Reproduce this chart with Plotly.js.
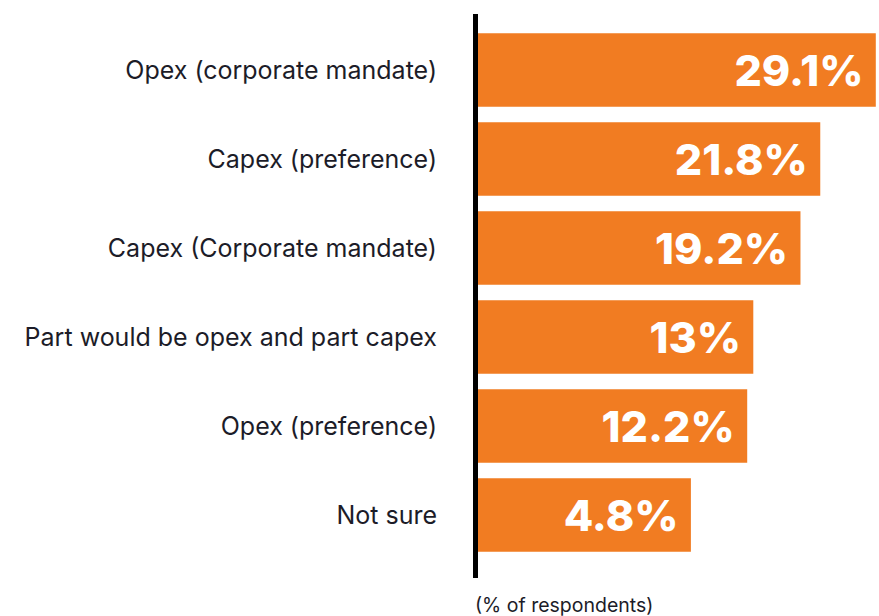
<!DOCTYPE html>
<html>
<head>
<meta charset="utf-8">
<script src="https://cdn.plot.ly/plotly-3.0.1.min.js"></script>
<style>html,body{margin:0;padding:0;background:#fff;}#chart{width:879px;height:616px;}</style>
</head>
<body>
<div id="chart"></div>
<script>
const categories = [
  "Opex (corporate mandate)",
  "Capex (preference)",
  "Capex (Corporate mandate)",
  "Part would be opex and part capex",
  "Opex (preference)",
  "Not sure"
];
const values = [29.1, 21.8, 19.2, 13, 12.2, 4.8];
const valueLabels = ["29.1%", "21.8%", "19.2%", "13%", "12.2%", "4.8%"];
const axisNote = "(% of respondents)";

const OFFSET = 23.18;
const NBSP = "\u00a0";

const trace = {
  type: "bar",
  orientation: "h",
  y: categories,
  x: values.map(v => v + OFFSET),
  base: values.map(() => -OFFSET),
  text: valueLabels.map(t => t + NBSP),
  textposition: "inside",
  insidetextanchor: "end",
  textangle: 0,
  constraintext: "none",
  cliponaxis: true,
  textfont: {family: "Inter, Lato, sans-serif", size: 43, color: "#ffffff", weight: 800},
  marker: {color: "#F17C22", line: {width: 0}},
  hoverinfo: "skip"
};

const layout = {
  width: 879,
  height: 616,
  margin: {l: 478, r: 0, t: 14, b: 38, pad: 0},
  paper_bgcolor: "#ffffff",
  plot_bgcolor: "#ffffff",
  showlegend: false,
  bargap: 0.174,
  xaxis: {
    range: [-OFFSET, 29.52],
    visible: false,
    showgrid: false,
    zeroline: false,
    fixedrange: true
  },
  yaxis: {
    type: "category",
    categoryorder: "array",
    categoryarray: categories,
    range: [5.708, -0.629],
    showgrid: false,
    zeroline: false,
    showline: false,
    ticks: "",
    ticklabelstandoff: 40,
    tickfont: {family: "Inter, 'Open Sans', sans-serif", size: 25, color: "#1c1c28"},
    fixedrange: true
  },
  shapes: [{
    type: "rect",
    xref: "paper", yref: "paper",
    xsizemode: "pixel", xanchor: 0,
    x0: -5, x1: 0, y0: 0, y1: 1,
    fillcolor: "#000000",
    line: {width: 0},
    layer: "above"
  }],
  annotations: [{
    text: axisNote,
    xref: "paper", yref: "paper",
    x: 0, y: 0,
    xanchor: "left", yanchor: "top",
    xshift: -5, yshift: -13,
    showarrow: false,
    font: {family: "Inter, 'Open Sans', sans-serif", size: 19.5, color: "#1c1c28"}
  }]
};

Plotly.newPlot("chart", [trace], layout, {displayModeBar: false, staticPlot: true});
</script>
</body>
</html>
